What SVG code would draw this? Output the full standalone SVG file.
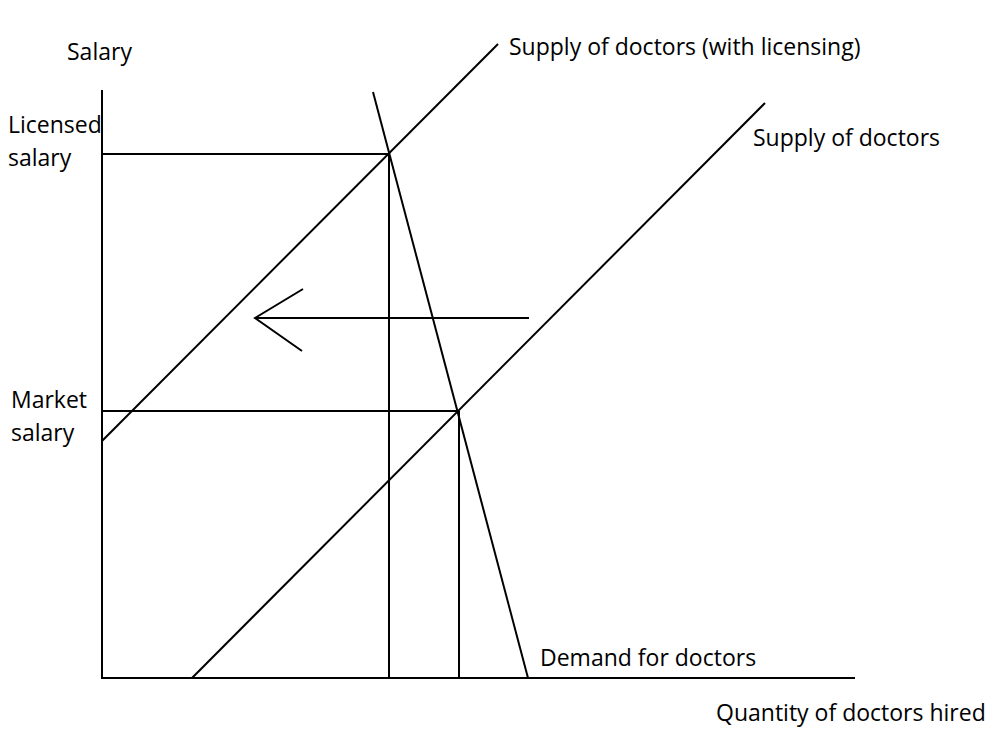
<svg xmlns="http://www.w3.org/2000/svg" width="1000" height="750" viewBox="0 0 1000 750">
<style>
.l{stroke:#000;stroke-width:2;fill:none}
text{font-family:"Open Sans","Liberation Sans",sans-serif;font-size:23px;fill:#000}
</style>
<rect width="1000" height="750" fill="#fff"/>
<g id="axes">
<line class="l" x1="102" y1="90" x2="102" y2="679"/>
<line class="l" x1="101" y1="678" x2="855" y2="678"/>
</g>
<g id="connectors">
<line class="l" x1="102" y1="154" x2="389" y2="154"/>
<line class="l" x1="389" y1="154" x2="389" y2="678"/>
<line class="l" x1="102" y1="411" x2="459" y2="411"/>
<line class="l" x1="459" y1="411" x2="459" y2="678"/>
<line class="l" x1="529" y1="318" x2="255" y2="318"/>
<polyline class="l" points="303,289 255,318 302,351"/>
</g>
<g id="supply-licensing">
<line class="l" x1="102" y1="441" x2="498" y2="44"/>
<text x="509" y="55">Supply of doctors (with licensing)</text>
</g>
<g id="supply">
<line class="l" x1="192" y1="678" x2="765" y2="103"/>
<text x="753" y="146">Supply of doctors</text>
</g>
<g id="demand">
<line class="l" x1="373" y1="92" x2="528" y2="678"/>
<text x="540" y="666">Demand for doctors</text>
</g>
<g id="labels">
<text x="67" y="60">Salary</text>
<text x="8" y="133">Licensed</text>
<text x="8" y="166">salary</text>
<text x="11" y="408">Market</text>
<text x="11" y="441">salary</text>
<text x="716" y="721">Quantity of doctors hired</text>
</g>
</svg>
